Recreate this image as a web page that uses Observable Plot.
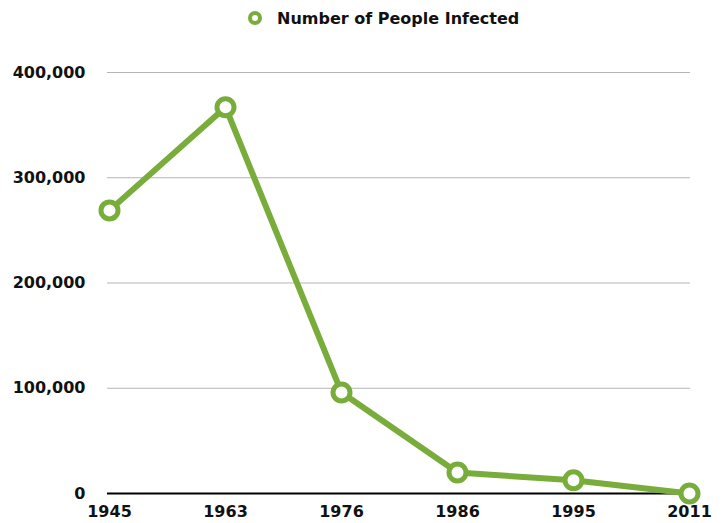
<!DOCTYPE html>
<html>
<head>
<meta charset="utf-8">
<script src="https://cdn.jsdelivr.net/npm/d3@7"></script>
<script src="https://cdn.jsdelivr.net/npm/@observablehq/plot@0.6"></script>
<style>
  body { margin: 0; background: #fff; font-family: "DejaVu Sans", sans-serif; }
  #legend { height: 36px; display: flex; align-items: center; padding-left: 247px; box-sizing: border-box; font-weight: bold; font-size: 16px; color: #111; }
  #legend svg { margin-right: 14px; }
</style>
</head>
<body>
<div id="legend"><svg width="16" height="16"><circle cx="8" cy="8" r="5" fill="#fff" stroke="#79AD3B" stroke-width="4"/></svg><span>Number of People Infected</span></div>
<div id="chart"></div>
<script>
const years = ["1945", "1963", "1976", "1986", "1995", "2011"];
const infected = [269000, 367000, 96000, 20000, 12500, 0];
const yTicks = [0, 100000, 200000, 300000, 400000];
const seriesName = "Number of People Infected";

const data = years.map((y, i) => ({year: y, value: infected[i]}));
const green = "#79AD3B";

const chart = Plot.plot({
  width: 723,
  height: 487,
  marginTop: 36,
  marginBottom: 30,
  marginLeft: 107,
  marginRight: 33,
  style: {fontFamily: "DejaVu Sans, sans-serif", fontSize: "16px", fontWeight: "bold", color: "#111", overflow: "visible"},
  x: {type: "point", domain: years, padding: 0, label: null},
  y: {domain: [0, 400000], label: null},
  marks: [
    Plot.gridY(yTicks, {stroke: "#b5b5b5", strokeOpacity: 1, strokeWidth: 1}),
    Plot.axisY(yTicks, {tickSize: 0, tickPadding: 22, tickFormat: d3.format(","), label: null, fontWeight: "bold", fontSize: 16}),
    Plot.axisX(years, {tickSize: 0, tickPadding: 12, label: null, fontWeight: "bold", fontSize: 16}),
    Plot.ruleY([0], {stroke: "#000", strokeWidth: 2}),
    Plot.line(data, {x: "year", y: "value", stroke: green, strokeWidth: 6}),
    Plot.dot(data, {x: "year", y: "value", r: 8.5, fill: "#fff", stroke: green, strokeWidth: 5, title: d => `${seriesName}: ${d.value}`})
  ]
});
document.getElementById("chart").appendChild(chart);
</script>
</body>
</html>
